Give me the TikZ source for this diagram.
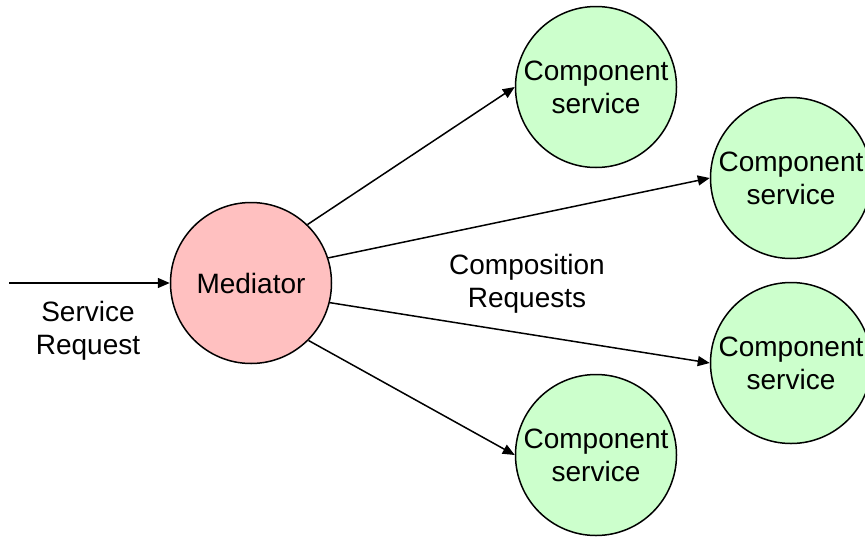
\documentclass[tikz,border=0pt]{standalone}
\usepackage{fontspec}
\setmainfont{Liberation Sans}
\usetikzlibrary{arrows.meta}
\definecolor{medfill}{HTML}{FFC0C0}
\definecolor{compfill}{HTML}{CCFFCC}
\begin{document}
\begin{tikzpicture}[x=1pt,y=-1pt,
  every node/.style={font=\fontsize{28}{33}\selectfont, align=center, inner sep=0pt},
  ball/.style={circle, draw=black, line width=1.5pt, minimum size=161pt},
  medball/.style={ball, fill=medfill},
  compball/.style={ball, fill=compfill},
  conn/.style={line width=1.5pt, -{Triangle[length=12pt,width=10pt]}}]
\useasboundingbox (0,0) rectangle (865,536);
\node[medball] (med) at (251,283) {Mediator};
\node[compball] (c1) at (596,87) {Component\\service};
\node[compball] (c2) at (791,178) {Component\\service};
\node[compball] (c3) at (791,363) {Component\\service};
\node[compball] (c4) at (596,455) {Component\\service};
\coordinate (in) at (9,283);
\draw[conn] (in) -- (med.west);
\draw[conn] (med.46) -- (c1.west);
\draw[conn] (med.18) -- (c2.west);
\draw[conn] (med.-14) -- (c3.west);
\draw[conn] (med.-45) -- (c4.west);
\node (sr) at (88,331) {Service\\Request};
\node (cr) at (527,284) {Composition\\Requests};
\end{tikzpicture}
\end{document}
